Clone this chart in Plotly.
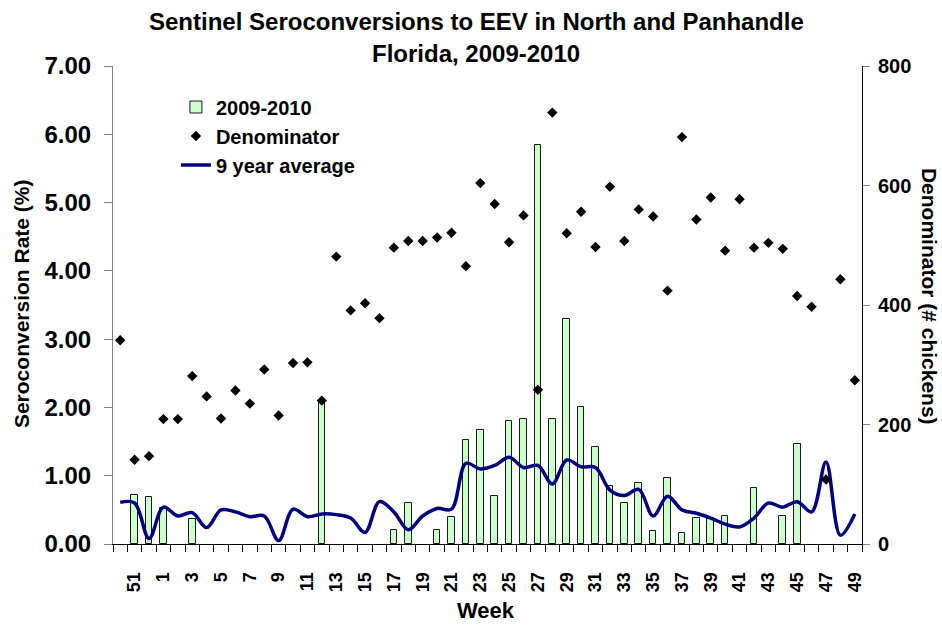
import plotly.graph_objects as go

weeks = [50, 51, 52, 1, 2, 3, 4, 5, 6, 7, 8, 9, 10, 11, 12, 13, 14, 15, 16, 17, 18, 19,
         20, 21, 22, 23, 24, 25, 26, 27, 28, 29, 30, 31, 32, 33, 34, 35, 36, 37, 38, 39,
         40, 41, 42, 43, 44, 45, 46, 47, 48, 49]

rate_2009_2010 = [0, 0.72, 0.69, 0.53, 0, 0.37, 0, 0, 0, 0, 0, 0, 0, 0, 2.11, 0, 0, 0, 0,
                  0.21, 0.60, 0, 0.21, 0.39, 1.52, 1.67, 0.71, 1.80, 1.83, 5.85, 1.83, 3.29,
                  2.01, 1.42, 0.85, 0.60, 0.90, 0.19, 0.96, 0.16, 0.38, 0.36, 0.41, 0, 0.82,
                  0, 0.41, 1.46, 0, 0, 0, 0]

denominator = [341, 141, 147, 209, 209, 281, 247, 210, 257, 235, 292, 215, 303, 304, 240,
               481, 391, 403, 378, 496, 507, 507, 513, 521, 465, 604, 569, 505, 550, 258,
               722, 520, 556, 497, 598, 507, 560, 548, 424, 681, 543, 580, 491, 577, 496,
               504, 494, 415, 397, 108, 443, 274]

nine_year_avg = [0.61, 0.60, 0.08, 0.54, 0.41, 0.46, 0.24, 0.50, 0.47, 0.40, 0.41, 0.05,
                 0.51, 0.40, 0.44, 0.43, 0.38, 0.17, 0.62, 0.47, 0.21, 0.41, 0.52, 0.51,
                 1.18, 1.10, 1.15, 1.27, 1.12, 1.15, 0.88, 1.23, 1.13, 1.12, 0.79, 0.71,
                 0.80, 0.41, 0.70, 0.50, 0.45, 0.38, 0.29, 0.25, 0.38, 0.60, 0.54, 0.62,
                 0.47, 1.20, 0.13, 0.44]

x = list(range(len(weeks)))
tick_idx = [i for i, w in enumerate(weeks) if w % 2 == 1]
tick_txt = [str(weeks[i]) for i in tick_idx]
bar_y = [v if v > 0 else None for v in rate_2009_2010]

FONT = "Liberation Sans, Arial, sans-serif"

fig = go.Figure()
fig.add_trace(go.Bar(
    x=x, y=bar_y, name="2009-2010", width=0.46,
    marker=dict(color="#CCFFCC", line=dict(color="#1a1a1a", width=1)),
    yaxis="y"))
fig.add_trace(go.Scatter(
    x=x, y=denominator, name="Denominator", mode="markers",
    marker=dict(symbol="diamond", size=8, color="black"),
    yaxis="y2"))
fig.add_trace(go.Scatter(
    x=x, y=nine_year_avg, name="9 year average", mode="lines",
    line=dict(color="#000080", width=3.5, shape="spline", smoothing=1),
    yaxis="y"))

fig.update_layout(
    width=942, height=627,
    margin=dict(l=113, r=80, t=66, b=83),
    paper_bgcolor="white", plot_bgcolor="white",
    font=dict(family=FONT, color="black", weight="bold"),
    showlegend=True,
    bargap=0,
    legend=dict(
        x=0.084, y=0.955, xanchor="left", yanchor="top",
        bgcolor="rgba(0,0,0,0)", borderwidth=0,
        font=dict(family=FONT, size=20, color="black", weight="bold"),
        itemwidth=30, tracegroupgap=0),
    xaxis=dict(
        range=[-0.5, len(weeks) - 0.5],
        tickmode="array", tickvals=tick_idx, ticktext=tick_txt,
        tickangle=-90, ticks="", ticklabelstandoff=20,
        tickfont=dict(family=FONT, size=18, color="black", weight="bold"),
        showline=True, linecolor="black", linewidth=1,
        showgrid=False, zeroline=False,
        minor=dict(tickmode="linear", tick0=-0.5, dtick=1, ticks="outside",
                   ticklen=7, tickcolor="black", tickwidth=1, showgrid=False)),
    yaxis=dict(
        range=[0, 7], dtick=1, tickformat=".2f",
        ticks="outside", ticklen=8, tickcolor="#808080", tickwidth=1,
        ticklabelstandoff=8,
        showline=True, linecolor="#808080", linewidth=1,
        showgrid=False, zeroline=False,
        tickfont=dict(family=FONT, size=24, color="black", weight="bold")),
    yaxis2=dict(
        range=[0, 800], dtick=200, overlaying="y", side="right",
        ticks="outside", ticklen=7, tickcolor="#808080", tickwidth=1,
        ticklabelstandoff=4,
        showline=True, linecolor="black", linewidth=1,
        showgrid=False, zeroline=False,
        tickfont=dict(family=FONT, size=20, color="black", weight="bold")),
    annotations=[
        dict(text="Sentinel Seroconversions to EEV in North and Panhandle",
             xref="paper", yref="paper", x=0.4853, y=1.094,
             xanchor="center", yanchor="middle", showarrow=False,
             font=dict(family=FONT, size=24, color="black", weight="bold")),
        dict(text="Florida, 2009-2010",
             xref="paper", yref="paper", x=0.4853, y=1.027,
             xanchor="center", yanchor="middle", showarrow=False,
             font=dict(family=FONT, size=24, color="black", weight="bold")),
        dict(text="Week", xref="paper", yref="paper", x=0.498, y=-0.140,
             xanchor="center", yanchor="middle", showarrow=False,
             font=dict(family=FONT, size=22, color="black", weight="bold")),
        dict(text="Seroconversion Rate (%)", xref="paper", yref="paper",
             x=-0.1228, y=0.502, xanchor="center", yanchor="middle",
             textangle=-90, showarrow=False,
             font=dict(family=FONT, size=21, color="black", weight="bold")),
        dict(text="Denominator (# chickens)", xref="paper", yref="paper",
             x=1.0895, y=0.519, xanchor="center", yanchor="middle",
             textangle=90, showarrow=False,
             font=dict(family=FONT, size=21, color="black", weight="bold")),
    ],
)

fig.write_html("out.html", config={"displayModeBar": False},
               post_script="document.body.style.margin='0';")
